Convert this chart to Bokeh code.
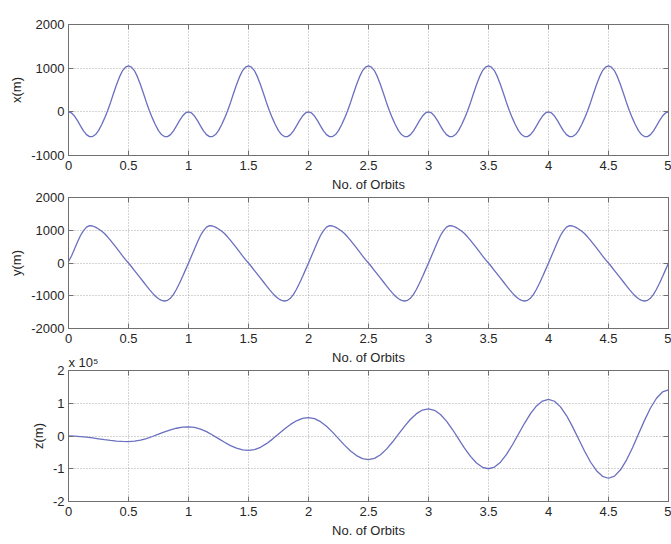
from bokeh.plotting import figure
from bokeh.models import FixedTicker, LinearAxis, Label, Range1d, Title
from bokeh.layouts import column
from bokeh.embed import file_html
from bokeh.resources import INLINE

# ---------------- data ----------------
# sample positions (No. of Orbits) for the x(m) and y(m) curves
orbits_fine = [
    0.0, 0.025, 0.05, 0.075, 0.1, 0.125, 0.15, 0.175,
    0.2, 0.225, 0.25, 0.275, 0.3, 0.325, 0.35, 0.375,
    0.4, 0.425, 0.45, 0.475, 0.5, 0.525, 0.55, 0.575,
    0.6, 0.625, 0.65, 0.675, 0.7, 0.725, 0.75, 0.775,
    0.8, 0.825, 0.85, 0.875, 0.9, 0.925, 0.95, 0.975,
    1.0, 1.025, 1.05, 1.075, 1.1, 1.125, 1.15, 1.175,
    1.2, 1.225, 1.25, 1.275, 1.3, 1.325, 1.35, 1.375,
    1.4, 1.425, 1.45, 1.475, 1.5, 1.525, 1.55, 1.575,
    1.6, 1.625, 1.65, 1.675, 1.7, 1.725, 1.75, 1.775,
    1.8, 1.825, 1.85, 1.875, 1.9, 1.925, 1.95, 1.975,
    2.0, 2.025, 2.05, 2.075, 2.1, 2.125, 2.15, 2.175,
    2.2, 2.225, 2.25, 2.275, 2.3, 2.325, 2.35, 2.375,
    2.4, 2.425, 2.45, 2.475, 2.5, 2.525, 2.55, 2.575,
    2.6, 2.625, 2.65, 2.675, 2.7, 2.725, 2.75, 2.775,
    2.8, 2.825, 2.85, 2.875, 2.9, 2.925, 2.95, 2.975,
    3.0, 3.025, 3.05, 3.075, 3.1, 3.125, 3.15, 3.175,
    3.2, 3.225, 3.25, 3.275, 3.3, 3.325, 3.35, 3.375,
    3.4, 3.425, 3.45, 3.475, 3.5, 3.525, 3.55, 3.575,
    3.6, 3.625, 3.65, 3.675, 3.7, 3.725, 3.75, 3.775,
    3.8, 3.825, 3.85, 3.875, 3.9, 3.925, 3.95, 3.975,
    4.0, 4.025, 4.05, 4.075, 4.1, 4.125, 4.15, 4.175,
    4.2, 4.225, 4.25, 4.275, 4.3, 4.325, 4.35, 4.375,
    4.4, 4.425, 4.45, 4.475, 4.5, 4.525, 4.55, 4.575,
    4.6, 4.625, 4.65, 4.675, 4.7, 4.725, 4.75, 4.775,
    4.8, 4.825, 4.85, 4.875, 4.9, 4.925, 4.95, 4.975,
    5.0]

x_m = [
    0, -25, -96, -200, -320, -435, -522, -568, -566, -520, -430, -300, -150, 20, 210, 420, 620, 800, 940, 1025,
    1050, 1025, 940, 800, 620, 420, 210, 20, -150, -300, -430, -520, -566, -568, -522, -435, -320, -200, -96, -25,
    0, -25, -96, -200, -320, -435, -522, -568, -566, -520, -430, -300, -150, 20, 210, 420, 620, 800, 940, 1025,
    1050, 1025, 940, 800, 620, 420, 210, 20, -150, -300, -430, -520, -566, -568, -522, -435, -320, -200, -96, -25,
    0, -25, -96, -200, -320, -435, -522, -568, -566, -520, -430, -300, -150, 20, 210, 420, 620, 800, 940, 1025,
    1050, 1025, 940, 800, 620, 420, 210, 20, -150, -300, -430, -520, -566, -568, -522, -435, -320, -200, -96, -25,
    0, -25, -96, -200, -320, -435, -522, -568, -566, -520, -430, -300, -150, 20, 210, 420, 620, 800, 940, 1025,
    1050, 1025, 940, 800, 620, 420, 210, 20, -150, -300, -430, -520, -566, -568, -522, -435, -320, -200, -96, -25,
    0, -25, -96, -200, -320, -435, -522, -568, -566, -520, -430, -300, -150, 20, 210, 420, 620, 800, 940, 1025,
    1050, 1025, 940, 800, 620, 420, 210, 20, -150, -300, -430, -520, -566, -568, -522, -435, -320, -200, -96, -25,
    0]

y_m = [
    50, 215, 430, 640, 840, 990, 1095, 1140, 1130, 1095, 1040, 975, 900, 800, 690, 575, 460, 340, 220, 105,
    0, -115, -230, -345, -460, -580, -700, -815, -920, -1015, -1090, -1140, -1160, -1140, -1075, -960, -800, -620, -420, -210,
    0, 215, 430, 640, 840, 990, 1095, 1140, 1130, 1095, 1040, 975, 900, 800, 690, 575, 460, 340, 220, 105,
    0, -115, -230, -345, -460, -580, -700, -815, -920, -1015, -1090, -1140, -1160, -1140, -1075, -960, -800, -620, -420, -210,
    0, 215, 430, 640, 840, 990, 1095, 1140, 1130, 1095, 1040, 975, 900, 800, 690, 575, 460, 340, 220, 105,
    0, -115, -230, -345, -460, -580, -700, -815, -920, -1015, -1090, -1140, -1160, -1140, -1075, -960, -800, -620, -420, -210,
    0, 215, 430, 640, 840, 990, 1095, 1140, 1130, 1095, 1040, 975, 900, 800, 690, 575, 460, 340, 220, 105,
    0, -115, -230, -345, -460, -580, -700, -815, -920, -1015, -1090, -1140, -1160, -1140, -1075, -960, -800, -620, -420, -210,
    0, 215, 430, 640, 840, 990, 1095, 1140, 1130, 1095, 1040, 975, 900, 800, 690, 575, 460, 340, 220, 105,
    0, -115, -230, -345, -460, -580, -700, -815, -920, -1015, -1090, -1140, -1160, -1140, -1075, -960, -800, -620, -420, -210,
    0]

# sample positions for the z(m) curve
orbits = [0.00, 0.05, 0.10, 0.15, 0.20, 0.25, 0.30, 0.35, 0.40, 0.45,
          0.50, 0.55, 0.60, 0.65, 0.70, 0.75, 0.80, 0.85, 0.90, 0.95,
          1.00, 1.05, 1.10, 1.15, 1.20, 1.25, 1.30, 1.35, 1.40, 1.45,
          1.50, 1.55, 1.60, 1.65, 1.70, 1.75, 1.80, 1.85, 1.90, 1.95,
          2.00, 2.05, 2.10, 2.15, 2.20, 2.25, 2.30, 2.35, 2.40, 2.45,
          2.50, 2.55, 2.60, 2.65, 2.70, 2.75, 2.80, 2.85, 2.90, 2.95,
          3.00, 3.05, 3.10, 3.15, 3.20, 3.25, 3.30, 3.35, 3.40, 3.45,
          3.50, 3.55, 3.60, 3.65, 3.70, 3.75, 3.80, 3.85, 3.90, 3.95,
          4.00, 4.05, 4.10, 4.15, 4.20, 4.25, 4.30, 4.35, 4.40, 4.45,
          4.50, 4.55, 4.60, 4.65, 4.70, 4.75, 4.80, 4.85, 4.90, 4.95,
          5.00]

# z in units of 1e5 m
z_e5 = [0.0, -0.004, -0.016, -0.035, -0.059, -0.085, -0.111, -0.135, -0.154, -0.166,
        -0.17, -0.159, -0.127, -0.077, -0.015, 0.055, 0.125, 0.187, 0.237, 0.269,
        0.28, 0.262, 0.211, 0.132, 0.031, -0.08, -0.191, -0.292, -0.371, -0.422,
        -0.44, -0.416, -0.345, -0.234, -0.095, 0.06, 0.215, 0.354, 0.465, 0.536,
        0.56, 0.529, 0.438, 0.296, 0.118, -0.08, -0.278, -0.456, -0.598, -0.689,
        -0.72, -0.682, -0.572, -0.401, -0.184, 0.055, 0.294, 0.511, 0.682, 0.792,
        0.83, 0.785, 0.655, 0.453, 0.198, -0.085, -0.368, -0.623, -0.825, -0.955,
        -1.0, -0.948, -0.798, -0.563, -0.268, 0.06, 0.388, 0.683, 0.918, 1.068,
        1.12, 1.061, 0.89, 0.624, 0.287, -0.085, -0.457, -0.794, -1.06, -1.231,
        -1.29, -1.224, -1.032, -0.734, -0.357, 0.06, 0.477, 0.854, 1.152, 1.344,
        1.41]

x_ticks = [0, 0.5, 1, 1.5, 2, 2.5, 3, 3.5, 4, 4.5, 5]
x_tick_labels = ["0", "0.5", "1", "1.5", "2", "2.5", "3", "3.5", "4", "4.5", "5"]
xm_ticks = [-1000, 0, 1000, 2000]
xm_tick_labels = ["-1000", "0", "1000", "2000"]
ym_ticks = [-2000, -1000, 0, 1000, 2000]
ym_tick_labels = ["-2000", "-1000", "0", "1000", "2000"]
z_ticks = [-2, -1, 0, 1, 2]
z_tick_labels = ["-2", "-1", "0", "1", "2"]

title_text = "Effects of Orbit Period Adjustment for Relative Motion due to the Time Averaged J2 Effect"
x_label = "No. of Orbits"
z_scale_text = "x 10\u2075"

FONT = "Liberation Sans"
TEXT = "#262626"
AX = "#707070"
GRID = "#a8a8a8"
LINE = "#6a6fbf"
FS = "13px"


def make_panel(xs, ys, ylab, yticks, ylabels, yr, top, bottom, pull_up):
    p = figure(width=671, height=top + 131 + bottom,
               x_range=Range1d(0, 5), y_range=Range1d(yr[0], yr[1]),
               output_backend="svg", toolbar_location=None,
               min_border_left=68, min_border_right=3,
               min_border_top=top, min_border_bottom=bottom,
               margin=(-pull_up, 0, 0, 0))
    p.background_fill_color = "white"
    p.border_fill_color = None
    p.outline_line_color = AX
    p.outline_line_width = 1

    xa = p.below[0]
    xa.ticker = FixedTicker(ticks=x_ticks)
    xa.major_label_overrides = dict(zip(x_ticks, x_tick_labels))
    ya = p.left[0]
    ya.ticker = FixedTicker(ticks=yticks)
    ya.major_label_overrides = dict(zip(yticks, ylabels))
    for ax in (xa, ya):
        ax.major_tick_in = 5
        ax.major_tick_out = 0
        ax.minor_tick_line_color = None
        ax.axis_line_color = AX
        ax.major_tick_line_color = AX
        ax.major_label_text_font = FONT
        ax.major_label_text_font_size = FS
        ax.major_label_text_color = TEXT
        ax.axis_label_text_font = FONT
        ax.axis_label_text_font_size = FS
        ax.axis_label_text_font_style = "normal"
        ax.axis_label_text_color = TEXT
        ax.axis_label_standoff = 4
    xa.major_label_standoff = 5
    ya.major_label_standoff = 4
    xa.axis_label = x_label
    ya.axis_label = ylab

    p.xgrid.ticker = FixedTicker(ticks=x_ticks)
    p.ygrid.ticker = FixedTicker(ticks=yticks)
    for g in (p.xgrid, p.ygrid):
        g.grid_line_color = GRID
        g.grid_line_dash = "1 2"
        g.grid_line_width = 1

    top_ax = LinearAxis(ticker=FixedTicker(ticks=x_ticks), major_label_text_font_size="1px",
                        major_label_text_color=None,
                        major_label_standoff=0, major_tick_in=5, major_tick_out=0,
                        minor_tick_line_color=None, axis_line_color=AX,
                        major_tick_line_color=AX)
    p.add_layout(top_ax, "above")
    right_ax = LinearAxis(ticker=FixedTicker(ticks=yticks), major_label_text_font_size="1px",
                          major_label_text_color=None,
                          major_label_standoff=0, major_tick_in=5, major_tick_out=0,
                          minor_tick_line_color=None, axis_line_color=AX,
                          major_tick_line_color=AX)
    p.add_layout(right_ax, "right")

    p.line(xs, ys, line_color=LINE, line_width=1.3)
    return p


p1 = make_panel(orbits_fine, x_m, "x(m)", xm_ticks, xm_tick_labels, (-1000, 2000), 24, 40, 0)
p1.add_layout(Label(x=2.5, y=2000, text=title_text, text_align="center",
                    text_baseline="alphabetic", y_offset=9, text_font=FONT,
                    text_font_size=FS, text_color=TEXT))

p2 = make_panel(orbits_fine, y_m, "y(m)", ym_ticks, ym_tick_labels, (-2000, 2000), 14, 40, 12)

p3 = make_panel(orbits, z_e5, "z(m)", z_ticks, z_tick_labels, (-2, 2), 22, 43, 20)
p3.add_layout(Title(text=z_scale_text, align="left", text_font=FONT, text_font_size=FS,
                    text_font_style="normal", text_color=TEXT, standoff=1, offset=0),
              "above")

layout = column(p1, p2, p3, spacing=0)

open("out.html", "w").write(file_html(layout, INLINE))
